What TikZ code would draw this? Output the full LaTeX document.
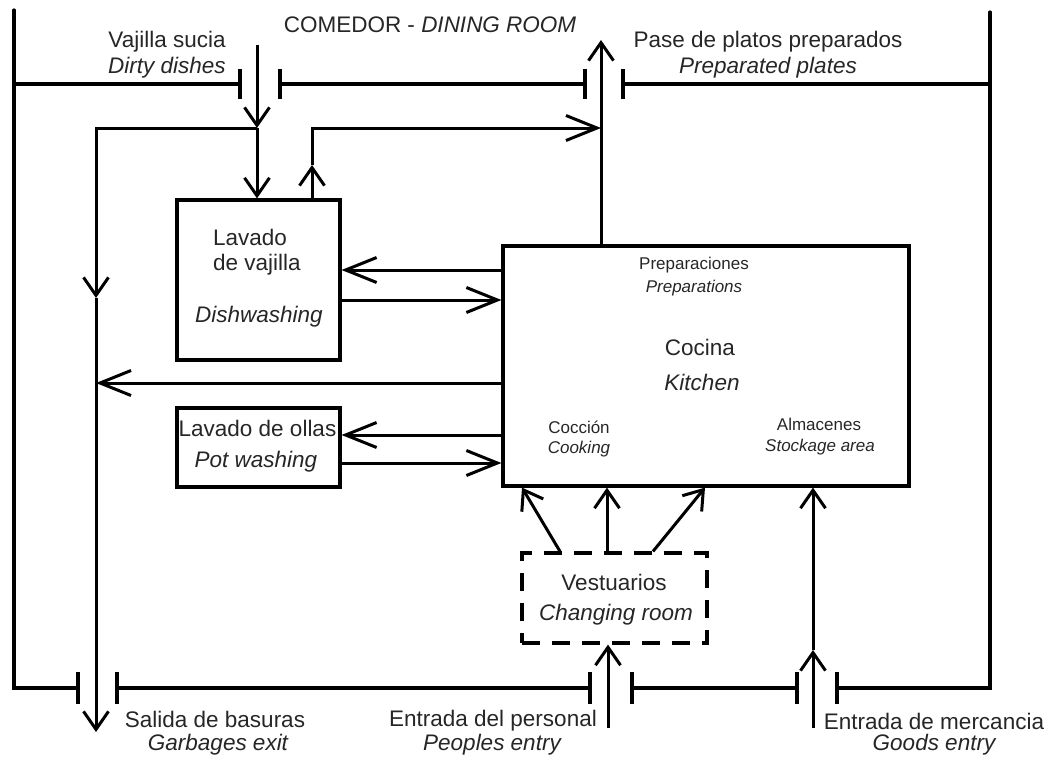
\documentclass[tikz,border=0pt]{standalone}
\usepackage{fontspec}
\setmainfont{Liberation Sans}
\usetikzlibrary{arrows.meta}
\begin{document}
\begin{tikzpicture}[x=1pt,y=-1pt,
  wall/.style={line width=3.2pt,line cap=round,line join=miter},
  jamb/.style={line width=3.2pt},
  ln/.style={line width=3pt},
  arr/.style={ln,-{Straight Barb[length=18pt,width=25pt,line width=3pt]}},
  harr/.style={ln,-{Straight Barb[length=31pt,width=25pt,line width=3pt]}},
  room/.style={draw,line width=3.2pt,inner sep=0pt},
  droom/.style={room,dash pattern=on 18pt off 12pt},
  lbl/.style={inner sep=0pt,text=black!85,font=\fontsize{22.5}{27}\selectfont},
  ilbl/.style={lbl,font=\fontsize{22.5}{27}\selectfont\itshape},
  slbl/.style={inner sep=0pt,text=black!85,font=\fontsize{17}{20}\selectfont},
  islbl/.style={slbl,font=\fontsize{17}{20}\selectfont\itshape}
]
\useasboundingbox (0,0) rectangle (1050,758);

% rooms
\node[room,minimum width=163pt,minimum height=160pt] (dish) at (258.5,280) {};
\node[room,minimum width=163pt,minimum height=79pt] (pot) at (258.5,447.5) {};
\node[room,minimum width=406pt,minimum height=240pt] (kit) at (706,366) {};
\node[droom,minimum width=185pt,minimum height=90pt] (vest) at (614.5,598) {};

% outer walls
\draw[wall] (14,10) -- (14,688) -- (78,688);
\draw[wall] (14,84) -- (240,84);
\draw[wall] (280,84) -- (585,84);
\draw[wall] (623,84) -- (990,84);
\draw[wall] (990,12) -- (990,688) -- (837,688);
\draw[wall] (117,688) -- (590,688);
\draw[wall] (632,688) -- (797,688);
\foreach \x in {240,280,585,623} \draw[jamb] (\x,69) -- (\x,99);
\foreach \x in {78,117,590,632,797,837} \draw[jamb] (\x,672) -- (\x,704);

% coordinates
\coordinate (dirtyin) at (257,45);
\coordinate (dirtyj) at (257,128);
\coordinate (garbtop) at (96,128);
\coordinate (garbmid) at (96,298);
\coordinate (garbout) at (96,732);
\coordinate (garbk) at (96,383);
\coordinate (dishup) at (312,165);
\coordinate (passj) at (601,128);
\coordinate (passout) at (601,40);
\coordinate (peoplein) at (608,728);
\coordinate (goodsin) at (813,728);
\coordinate (goodsmid) at (813,650);

% dirty dishes
\draw[arr] (dirtyin) -- (dirtyj);
\draw[arr] (dirtyj) -- (dirtyj |- dish.north);
% garbage
\draw[arr] (dirtyj) -- (garbtop) -- (garbmid);
\draw[arr] (garbmid) -- (garbout);
\draw[harr] (kit.west |- garbk) -- (garbk);
% clean dishes to pass
\draw[arr] (dish.north -| dishup) -- (dishup);
\draw[harr] (dishup) |- (passj);
\draw[arr] (kit.north -| passout) -- (passout);
% kitchen <-> dishwashing
\draw[harr] (kit.west |- 0,270) -- (dish.east |- 0,270);
\draw[harr] (dish.east |- 0,300) -- (kit.west |- 0,300);
% kitchen <-> pot washing
\draw[harr] (kit.west |- 0,435) -- (pot.east |- 0,435);
\draw[harr] (pot.east |- 0,463) -- (kit.west |- 0,463);
% changing room
\draw[arr] (peoplein) -- (vest.south -| peoplein);
\draw[arr] (vest.north -| 560,0) -- (kit.south -| 522,0);
\draw[arr] (vest.north -| 607,0) -- (kit.south -| 607,0);
\draw[arr] (vest.north -| 653,0) -- (kit.south -| 705,0);
% goods
\draw[arr] (goodsin) -- (goodsmid);
\draw[arr] (goodsmid) -- (kit.south -| goodsmid);

% labels
\node[lbl] (tcom) at (430,25) {COMEDOR - \textit{DINING ROOM}};
\node[lbl] (tvs) at (167,42) {Vajilla sucia};
\node[ilbl] (tdd) at (167,68) {Dirty dishes};
\node[lbl] (tpp) at (768,42) {Pase de platos preparados};
\node[ilbl] (tpe) at (768,68) {Preparated plates};
\node[lbl,anchor=west] (tlv1) at (213,237) {Lavado};
\node[lbl,anchor=west] (tlv2) at (213,265) {de vajilla};
\node[ilbl] (tdw) at (259,317) {Dishwashing};
\node[lbl] (tlo) at (257.5,428) {Lavado de ollas};
\node[ilbl] (tpw) at (256,462) {Pot washing};
\node[slbl] (tpr1) at (694,265) {Preparaciones};
\node[islbl] (tpr2) at (694,288) {Preparations};
\node[lbl] (tcoc) at (700,347) {Cocina};
\node[ilbl] (tkit) at (702,382) {Kitchen};
\node[slbl] (tcc1) at (579,427) {Cocción};
\node[islbl] (tcc2) at (579,449) {Cooking};
\node[slbl] (tal1) at (819,424) {Almacenes};
\node[islbl] (tal2) at (820,447) {Stockage area};
\node[lbl] (tves) at (614,582) {Vestuarios};
\node[ilbl] (tchr) at (616,615) {Changing room};
\node[lbl] (tsb) at (215,719) {Salida de basuras};
\node[ilbl] (tge) at (218,745) {Garbages exit};
\node[lbl] (tep) at (493,721) {Entrada del personal};
\node[ilbl] (tpe2) at (492,745) {Peoples entry};
\node[lbl] (tem) at (934,721) {Entrada de mercancia};
\node[ilbl] (tgo) at (934,745) {Goods entry};
\end{tikzpicture}
\end{document}
